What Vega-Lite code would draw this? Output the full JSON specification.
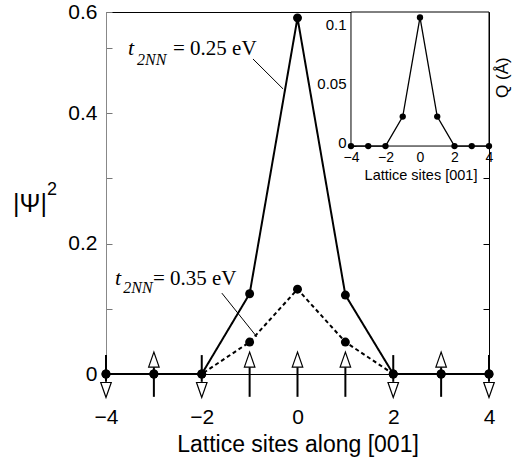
{
  "$schema": "https://vega.github.io/schema/vega-lite/v6.json",
  "width": 383,
  "height": 362,
  "autosize": "none",
  "padding": {"left": 106, "top": 12, "right": 23, "bottom": 87},
  "background": "white",
  "config": {
    "font": "Liberation Sans",
    "view": {"stroke": null},
    "axis": {"grid": false, "labelColor": "black", "titleColor": "black", "domainColor": "black", "tickColor": "black", "labelFont": "Liberation Sans", "titleFont": "Liberation Sans", "labelFlush": false, "labelOverlap": false, "titleFontWeight": "normal"}
  },
  "datasets": {
    "main": [
      {"site": -4, "psi2": 0, "series": "0.25 eV"},
      {"site": -3, "psi2": 0, "series": "0.25 eV"},
      {"site": -2, "psi2": 0, "series": "0.25 eV"},
      {"site": -1, "psi2": 0.123, "series": "0.25 eV"},
      {"site": 0, "psi2": 0.546, "series": "0.25 eV"},
      {"site": 1, "psi2": 0.121, "series": "0.25 eV"},
      {"site": 2, "psi2": 0, "series": "0.25 eV"},
      {"site": 3, "psi2": 0, "series": "0.25 eV"},
      {"site": 4, "psi2": 0, "series": "0.25 eV"},
      {"site": -4, "psi2": 0, "series": "0.35 eV"},
      {"site": -3, "psi2": 0, "series": "0.35 eV"},
      {"site": -2, "psi2": 0, "series": "0.35 eV"},
      {"site": -1, "psi2": 0.049, "series": "0.35 eV"},
      {"site": 0, "psi2": 0.130, "series": "0.35 eV"},
      {"site": 1, "psi2": 0.049, "series": "0.35 eV"},
      {"site": 2, "psi2": 0, "series": "0.35 eV"},
      {"site": 3, "psi2": 0, "series": "0.35 eV"},
      {"site": 4, "psi2": 0, "series": "0.35 eV"}
    ],
    "spins": [
      {"site": -4, "spin": "down"},
      {"site": -3, "spin": "up"},
      {"site": -2, "spin": "down"},
      {"site": -1, "spin": "up"},
      {"site": 0, "spin": "up"},
      {"site": 1, "spin": "up"},
      {"site": 2, "spin": "down"},
      {"site": 3, "spin": "up"},
      {"site": 4, "spin": "down"}
    ],
    "inset": [
      {"site": -4, "q": 0},
      {"site": -3, "q": 0},
      {"site": -2, "q": 0},
      {"site": -1, "q": 0.025},
      {"site": 0, "q": 0.109},
      {"site": 1, "q": 0.025},
      {"site": 2, "q": 0},
      {"site": 3, "q": 0},
      {"site": 4, "q": 0}
    ]
  },
  "resolve": {"scale": {"x": "independent", "y": "independent"}},
  "layer": [
    {
      "data": {"name": "spins"},
      "transform": [{"filter": "datum.spin == 'up'"}],
      "mark": {"type": "rule", "color": "black", "strokeWidth": 2},
      "encoding": {
        "x": {"field": "site", "type": "quantitative", "scale": {"domain": [-4, 4], "nice": false, "zero": false},
              "axis": {"orient": "top", "ticks": false, "labels": false, "title": null}},
        "y": {"datum": -0.035, "type": "quantitative", "scale": {"domain": [0, 0.555], "nice": false, "zero": false},
              "axis": {"orient": "right", "values": [0.1, 0.2, 0.3, 0.4, 0.5], "tickSize": -6, "labels": false, "title": null}},
        "y2": {"datum": 0.011}
      }
    },
    {
      "data": {"name": "spins"},
      "transform": [{"filter": "datum.spin == 'down'"}],
      "mark": {"type": "rule", "color": "black", "strokeWidth": 2},
      "encoding": {
        "x": {"field": "site", "type": "quantitative", "scale": {"domain": [-4, 4], "nice": false, "zero": false}, "axis": null},
        "y": {"datum": 0.029, "type": "quantitative", "scale": {"domain": [0, 0.555], "nice": false, "zero": false}, "axis": null},
        "y2": {"datum": -0.012}
      }
    },
    {
      "data": {"name": "spins"},
      "transform": [{"filter": "datum.spin == 'up'"}],
      "mark": {"type": "point", "shape": "M0,-1L-0.7,1L0.7,1Z", "size": 225, "filled": true, "fill": "white", "stroke": "black", "strokeWidth": 1.2, "opacity": 1},
      "encoding": {
        "x": {"field": "site", "type": "quantitative", "scale": {"domain": [-4, 4], "nice": false, "zero": false}, "axis": null},
        "y": {"datum": 0.022, "type": "quantitative", "scale": {"domain": [0, 0.555], "nice": false, "zero": false}, "axis": null}
      }
    },
    {
      "data": {"name": "spins"},
      "transform": [{"filter": "datum.spin == 'down'"}],
      "mark": {"type": "point", "shape": "M0,1L-0.7,-1L0.7,-1Z", "size": 225, "filled": true, "fill": "white", "stroke": "black", "strokeWidth": 1.2, "opacity": 1},
      "encoding": {
        "x": {"field": "site", "type": "quantitative", "scale": {"domain": [-4, 4], "nice": false, "zero": false}, "axis": null},
        "y": {"datum": -0.0245, "type": "quantitative", "scale": {"domain": [0, 0.555], "nice": false, "zero": false}, "axis": null}
      }
    },
    {
      "data": {"name": "main"},
      "mark": {"type": "line", "color": "black", "strokeWidth": 2},
      "encoding": {
        "x": {"field": "site", "type": "quantitative", "scale": {"domain": [-4, 4], "nice": false, "zero": false},
              "axis": {"orient": "bottom", "values": [-4, -2, 0, 2, 4], "format": "~g", "ticks": false, "labelFontSize": 21, "labelPadding": 32, "title": "Lattice sites along [001]", "titleFontSize": 23, "titlePadding": 6}},
        "y": {"field": "psi2", "type": "quantitative", "scale": {"domain": [0, 0.555], "nice": false, "zero": false},
              "axis": {"orient": "left", "values": [0, 0.1, 0.2, 0.3, 0.4, 0.5, 0.555], "format": "~g",
                       "labelExpr": "datum.value > 0.55 ? '0.6' : ((datum.value == 0 || datum.value == 0.2 || datum.value == 0.4) ? datum.label : '')",
                       "tickSize": -6, "domainColor": "#888888", "tickColor": "#777777", "labelFontSize": 21, "labelPadding": 15, "title": null}},
        "strokeDash": {"field": "series", "type": "nominal", "scale": {"domain": ["0.25 eV", "0.35 eV"], "range": [[1, 0], [4, 3]]}, "legend": null}
      }
    },
    {
      "data": {"name": "main"},
      "mark": {"type": "point", "filled": true, "color": "black", "size": 80, "opacity": 1},
      "encoding": {
        "x": {"field": "site", "type": "quantitative", "scale": {"domain": [-4, 4], "nice": false, "zero": false}, "axis": null},
        "y": {"field": "psi2", "type": "quantitative", "scale": {"domain": [0, 0.555], "nice": false, "zero": false}, "axis": null}
      }
    },
    {
      "data": {"values": [
        {"x1": -0.93, "y1": 0.483, "x2": -0.30, "y2": 0.437},
        {"x1": -1.58, "y1": 0.124, "x2": -0.85, "y2": 0.057}
      ]},
      "mark": {"type": "rule", "color": "black", "strokeWidth": 1},
      "encoding": {
        "x": {"field": "x1", "type": "quantitative", "scale": {"domain": [-4, 4], "nice": false, "zero": false}, "axis": null},
        "y": {"field": "y1", "type": "quantitative", "scale": {"domain": [0, 0.555], "nice": false, "zero": false}, "axis": null},
        "x2": {"field": "x2"},
        "y2": {"field": "y2"}
      }
    },
    {
      "data": {"values": [
        {"x": -3.54, "y": 0.489, "label": "t"},
        {"x": -3.81, "y": 0.136, "label": "t"}
      ]},
      "mark": {"type": "text", "font": "Liberation Serif", "fontStyle": "italic", "fontSize": 22, "align": "left", "baseline": "alphabetic", "color": "black"},
      "encoding": {
        "x": {"field": "x", "type": "quantitative", "scale": {"domain": [-4, 4], "nice": false, "zero": false}, "axis": null},
        "y": {"field": "y", "type": "quantitative", "scale": {"domain": [0, 0.555], "nice": false, "zero": false}, "axis": null},
        "text": {"field": "label"}
      }
    },
    {
      "data": {"values": [
        {"x": -3.35, "y": 0.474, "label": "2NN"},
        {"x": -3.64, "y": 0.124, "label": "2NN"}
      ]},
      "mark": {"type": "text", "font": "Liberation Serif", "fontStyle": "italic", "fontSize": 16, "align": "left", "baseline": "alphabetic", "color": "black"},
      "encoding": {
        "x": {"field": "x", "type": "quantitative", "scale": {"domain": [-4, 4], "nice": false, "zero": false}, "axis": null},
        "y": {"field": "y", "type": "quantitative", "scale": {"domain": [0, 0.555], "nice": false, "zero": false}, "axis": null},
        "text": {"field": "label"}
      }
    },
    {
      "data": {"values": [
        {"x": -2.6, "y": 0.489, "label": "= 0.25 eV"},
        {"x": -3.02, "y": 0.136, "label": "= 0.35 eV"}
      ]},
      "mark": {"type": "text", "font": "Liberation Serif", "fontSize": 21, "align": "left", "baseline": "alphabetic", "color": "black"},
      "encoding": {
        "x": {"field": "x", "type": "quantitative", "scale": {"domain": [-4, 4], "nice": false, "zero": false}, "axis": null},
        "y": {"field": "y", "type": "quantitative", "scale": {"domain": [0, 0.555], "nice": false, "zero": false}, "axis": null},
        "text": {"field": "label"}
      }
    },
    {
      "data": {"values": [{"x": -5.94, "y": 0.248, "label": "|Ψ|"}]},
      "mark": {"type": "text", "fontSize": 25, "align": "left", "baseline": "alphabetic", "color": "black"},
      "encoding": {
        "x": {"field": "x", "type": "quantitative", "scale": {"domain": [-4, 4], "nice": false, "zero": false}, "axis": null},
        "y": {"field": "y", "type": "quantitative", "scale": {"domain": [0, 0.555], "nice": false, "zero": false}, "axis": null},
        "text": {"field": "label"}
      }
    },
    {
      "data": {"values": [{"x": -5.23, "y": 0.274, "label": "2"}]},
      "mark": {"type": "text", "fontSize": 18, "align": "left", "baseline": "alphabetic", "color": "black"},
      "encoding": {
        "x": {"field": "x", "type": "quantitative", "scale": {"domain": [-4, 4], "nice": false, "zero": false}, "axis": null},
        "y": {"field": "y", "type": "quantitative", "scale": {"domain": [0, 0.555], "nice": false, "zero": false}, "axis": null},
        "text": {"field": "label"}
      }
    },
    {
      "data": {"values": [{"x1": -4, "x2": 4, "y1": 0, "y2": 0.1136}]},
      "mark": {"type": "rect", "fill": "white", "stroke": "black", "strokeWidth": 1},
      "encoding": {
        "x": {"field": "x1", "type": "quantitative", "scale": {"domain": [-18.2, 4], "nice": false, "zero": false}, "axis": null},
        "x2": {"field": "x2"},
        "y": {"field": "y1", "type": "quantitative", "scale": {"domain": [-0.1932, 0.1136], "nice": false, "zero": false}, "axis": null},
        "y2": {"field": "y2"}
      }
    },
    {
      "data": {"name": "inset"},
      "mark": {"type": "line", "color": "black", "strokeWidth": 1.3},
      "encoding": {
        "x": {"field": "site", "type": "quantitative", "scale": {"domain": [-18.2, 4], "nice": false, "zero": false},
              "axis": {"orient": "bottom", "offset": -228, "values": [-4, -2, 0, 2, 4], "format": "~g", "domain": false, "ticks": false, "labelFontSize": 14, "labelPadding": 4, "title": null}},
        "y": {"field": "q", "type": "quantitative", "scale": {"domain": [-0.1932, 0.1136], "nice": false, "zero": false},
              "axis": {"orient": "left", "offset": -245, "values": [0, 0.05, 0.1], "format": "~g", "domain": false, "tickSize": -5, "labelFontSize": 15, "labelPadding": 10, "labelOffset": -4, "title": null}}
      }
    },
    {
      "data": {"name": "inset"},
      "mark": {"type": "point", "filled": true, "color": "black", "size": 40, "opacity": 1},
      "encoding": {
        "x": {"field": "site", "type": "quantitative", "scale": {"domain": [-18.2, 4], "nice": false, "zero": false}, "axis": null},
        "y": {"field": "q", "type": "quantitative", "scale": {"domain": [-0.1932, 0.1136], "nice": false, "zero": false},
              "axis": {"orient": "right", "values": [0.05, 0.1], "domain": false, "tickSize": -5, "labels": false, "title": null}}
      }
    },
    {
      "data": {"values": [{"x": 0.06, "y": -0.0288, "label": "Lattice sites [001]"}]},
      "mark": {"type": "text", "fontSize": 14.5, "align": "center", "baseline": "alphabetic", "color": "black"},
      "encoding": {
        "x": {"field": "x", "type": "quantitative", "scale": {"domain": [-18.2, 4], "nice": false, "zero": false}, "axis": null},
        "y": {"field": "y", "type": "quantitative", "scale": {"domain": [-0.1932, 0.1136], "nice": false, "zero": false}, "axis": null},
        "text": {"field": "label"}
      }
    },
    {
      "data": {"values": [{"x": 4.81, "y": 0.058, "label": "Q (Å)"}]},
      "mark": {"type": "text", "fontSize": 17, "angle": 270, "align": "center", "baseline": "middle", "color": "black"},
      "encoding": {
        "x": {"field": "x", "type": "quantitative", "scale": {"domain": [-18.2, 4], "nice": false, "zero": false}, "axis": null},
        "y": {"field": "y", "type": "quantitative", "scale": {"domain": [-0.1932, 0.1136], "nice": false, "zero": false}, "axis": null},
        "text": {"field": "label"}
      }
    }
  ]
}
